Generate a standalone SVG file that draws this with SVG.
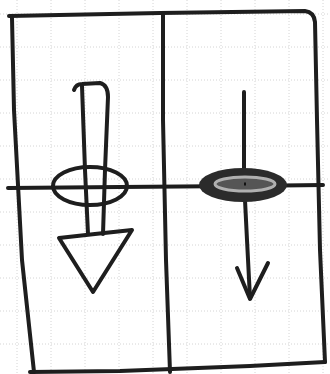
<svg xmlns="http://www.w3.org/2000/svg" width="330" height="374" viewBox="0 0 330 374">
<style>
.ink{fill:none;stroke:#1e1e1e;stroke-width:4;stroke-linecap:round;stroke-linejoin:round}
.grid{stroke:#d4d4d4;stroke-width:1;stroke-dasharray:1 2;fill:none}
</style>
<rect width="330" height="374" fill="#ffffff"/>
<g id="grid">
<path class="grid" d="M17 0V374M51 0V374M85 0V374M119 0V374M153 0V374M187 0V374M221 0V374M255 0V374M289 0V374M323 0V374"/>
<path class="grid" d="M0 14H330M0 47H330M0 80H330M0 113H330M0 146H330M0 179H330M0 212H330M0 245H330M0 278H330M0 311H330M0 344H330"/>
</g>
<g id="frame">
<path class="ink" d="M9 16 L160 13 L305 11 Q314 12 315 22 L317 120 L320 250 L325 362"/>
<path class="ink" d="M12 18 L14 110 L22 260 L34 372"/>
<path class="ink" d="M30 372 L120 371 L250 366 L325 362"/>
<path class="ink" d="M163 14 L163 120 L166 260 L170 372"/>
<path class="ink" d="M8 188 L120 187 L240 186 L323 185"/>
</g>
<g id="left-arrow">
<path class="ink" d="M74 90 Q76 84 82 84 L100 83 Q108 85 108 97 L105 170 L103 234"/>
<path class="ink" d="M82 86 L85 170 L88 234"/>
<ellipse class="ink" cx="90" cy="186" rx="37" ry="19"/>
<path class="ink" d="M59 238 L95 234 L132 230 L93 292 Z"/>
</g>
<g id="right-arrow">
<path class="ink" d="M244 92 L244 180 L247 240 L250 298"/>
<ellipse cx="243" cy="185" rx="44" ry="17" fill="#2b2b2b"/>
<ellipse cx="245" cy="184" rx="30" ry="7" fill="#555" stroke="#b0b0b0" stroke-width="3"/>
<path d="M244 184 L246 184" stroke="#111" stroke-width="3"/>
<path class="ink" d="M237 268 L250 299 L268 263"/>
</g>
</svg>
